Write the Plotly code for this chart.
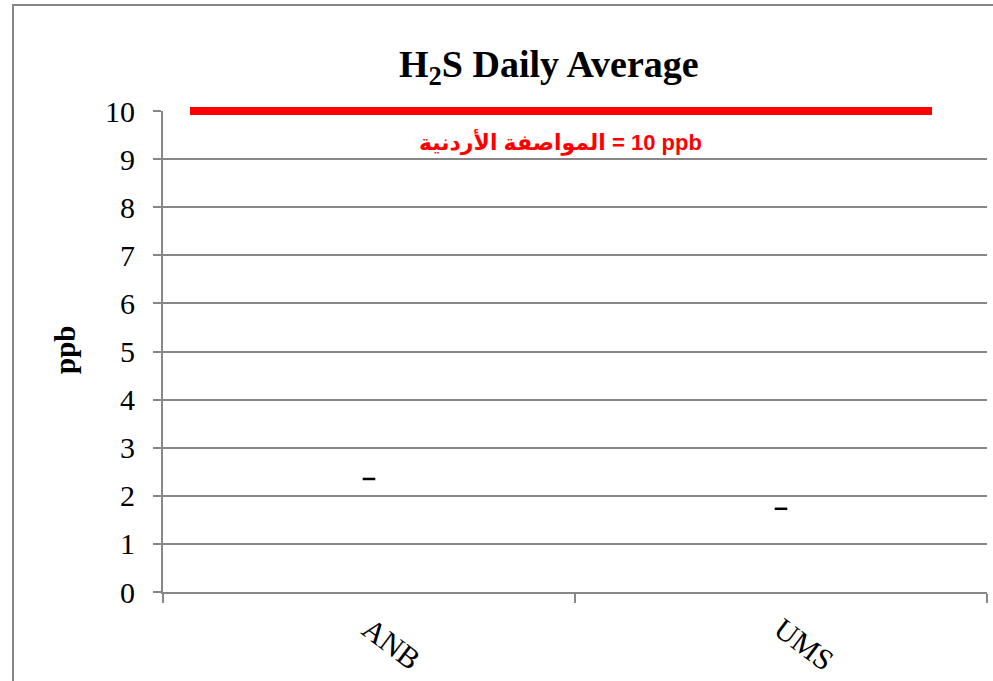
import plotly.graph_objects as go

categories = ["ANB", "UMS"]
values = [2.35, 1.73]
limit_value = 10
y_max = 10
y_ticks = list(range(0, 11))
title_text = "H<sub>2</sub>S Daily Average"
y_title = "ppb"
limit_label = "المواصفة الأردنية\u200e = 10 ppb"

W, H = 993, 681
L, R, T, B = 163, 6, 111, 89
pw, ph = W - L - R, H - T - B

def px_x(x):
    return (x - L) / pw

def px_y(y):
    return (H - B - y) / ph

grey = "#878787"
serif = "Liberation Serif, Times New Roman, serif"

fig = go.Figure()
fig.add_trace(go.Scatter(
    x=categories, y=values, mode="markers",
    marker=dict(symbol="line-ew", size=9, line=dict(width=2.5, color="black"), color="black"),
    showlegend=False, hoverinfo="x+y",
))

# limit line (paper y computed from the axis range so it is not clipped at the top edge)
fig.add_shape(type="line", xref="paper", yref="paper",
              x0=px_x(190), x1=px_x(932), y0=limit_value / y_max, y1=limit_value / y_max,
              line=dict(color="#ff0000", width=8), layer="above")

fig.add_shape(type="rect", xref="paper", yref="paper",
              x0=px_x(13), x1=1.2, y0=-0.4, y1=px_y(5),
              line=dict(color=grey, width=2), layer="below")

fig.add_annotation(text="<b>" + title_text + "</b>", xref="paper", yref="paper",
                   x=px_x(549), y=px_y(67), showarrow=False,
                   xanchor="center", yanchor="middle",
                   font=dict(family=serif, size=38, color="black"))
fig.add_annotation(text="<b>" + y_title + "</b>", xref="paper", yref="paper",
                   x=px_x(65), y=px_y(350), showarrow=False, textangle=-90,
                   xanchor="center", yanchor="middle",
                   font=dict(family=serif, size=29, color="black"))
fig.add_annotation(text="<b>" + limit_label + "</b>", xref="paper", yref="paper",
                   x=px_x(560), y=px_y(142), showarrow=False,
                   xanchor="center", yanchor="middle",
                   font=dict(family="Liberation Sans, DejaVu Sans, sans-serif", size=22, color="#ff0000"))

fig.update_layout(
    width=W, height=H,
    margin=dict(l=L, r=R, t=T, b=B, pad=0, autoexpand=False),
    paper_bgcolor="white", plot_bgcolor="white",
    font=dict(family=serif, color="black"),
)

fig.update_xaxes(
    type="category", categoryorder="array", categoryarray=categories,
    range=[-0.5, 1.5], automargin=False,
    showline=True, linecolor=grey, linewidth=2,
    ticks="outside", tickson="boundaries", ticklen=9, tickcolor=grey, tickwidth=2,
    showgrid=False, tickangle=37,
    tickfont=dict(family=serif, size=30, color="black"),
    ticklabelstandoff=6,
)
fig.update_yaxes(
    range=[0, y_max], tickvals=y_ticks, automargin=False,
    showline=True, linecolor=grey, linewidth=2,
    ticks="outside", ticklen=8, tickcolor=grey, tickwidth=2,
    showgrid=True, gridcolor=grey, gridwidth=1.5,
    zeroline=False,
    tickfont=dict(family=serif, size=30, color="black"),
    ticklabelstandoff=12,
)

fig.write_html("out.html", config={"displayModeBar": False},
               post_script="document.body.style.margin='0';document.body.style.overflow='hidden';")
